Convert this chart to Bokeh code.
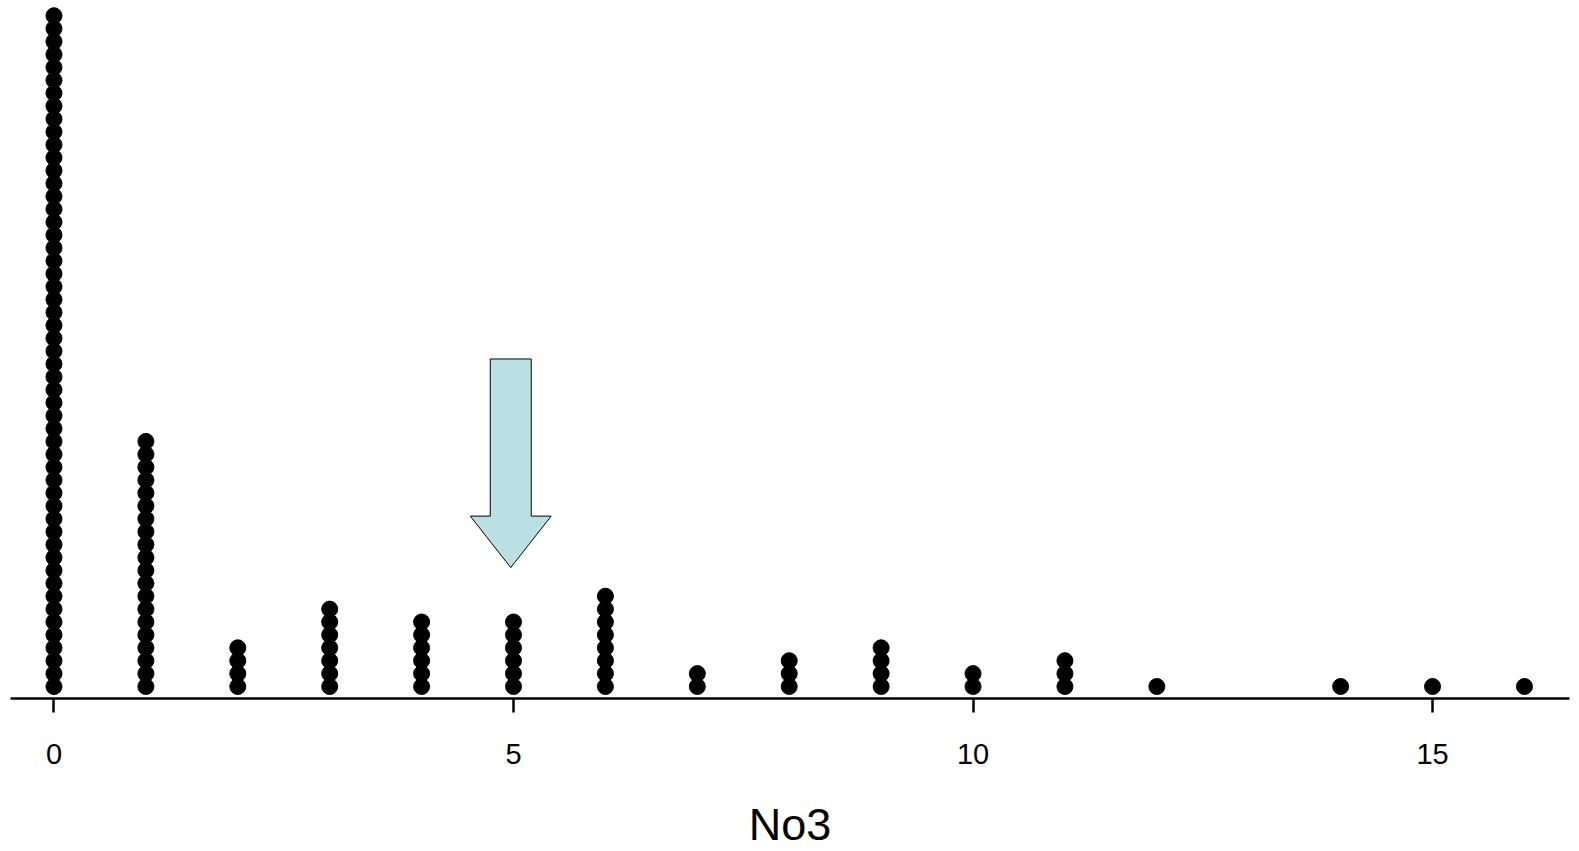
from bokeh.plotting import figure
from bokeh.models import Range1d, FixedTicker
from bokeh.embed import file_html
from bokeh.resources import INLINE

# Data: value of No3 and the number of observations at that value
no3_values = [0, 1, 2, 3, 4, 5, 6, 7, 8, 9, 10, 11, 12, 14, 15, 16]
no3_counts = [53, 20, 4, 7, 6, 6, 8, 2, 3, 4, 2, 3, 1, 1, 1, 1]
x_ticks = [0, 5, 10, 15]
x_label = "No3"
arrow_at = 4.97

FONT = "Liberation Sans"

# stacked dot positions
xs, ys = [], []
for v, c in zip(no3_values, no3_counts):
    for k in range(c):
        xs.append(v)
        ys.append(k)

p = figure(frame_width=1559, frame_height=698,
           x_range=Range1d(-0.473, 16.49), y_range=Range1d(-0.93, 53.18),
           output_backend="svg", toolbar_location=None,
           y_axis_location=None,
           min_border_left=10, min_border_right=2, min_border_top=0,
           min_border_bottom=0)
p.grid.visible = False
p.outline_line_color = None
p.background_fill_color = "white"
p.border_fill_color = "white"

p.scatter(xs, ys, size=16, color="black", line_color="black")

# arrow
sh = 0.223  # half shaft width
hh = 0.44   # half head width
ax = [arrow_at - sh, arrow_at + sh, arrow_at + sh, arrow_at + hh, arrow_at,
      arrow_at - hh, arrow_at - sh, arrow_at - sh]
ay = [25.39, 25.39, 13.21, 13.21, 9.22, 13.21, 13.21, 25.39]
p.patch(ax, ay, fill_color="#bae0e3", line_color="black", line_width=1)

xa = p.xaxis[0]
xa.ticker = FixedTicker(ticks=x_ticks)
xa.minor_tick_line_color = None
xa.major_tick_in = 0
xa.major_tick_out = 14
xa.major_tick_line_width = 2.5
xa.axis_line_width = 2.5
xa.axis_line_color = "black"
xa.major_tick_line_color = "black"
xa.major_label_text_font = FONT
xa.major_label_text_font_size = "29px"
xa.major_label_text_color = "black"
xa.major_label_standoff = 31
xa.axis_label = x_label
xa.axis_label_text_font = FONT
xa.axis_label_text_font_size = "45px"
xa.axis_label_text_font_style = "normal"
xa.axis_label_text_color = "black"
xa.axis_label_standoff = 32

open("out.html", "w").write(file_html(p, INLINE))
